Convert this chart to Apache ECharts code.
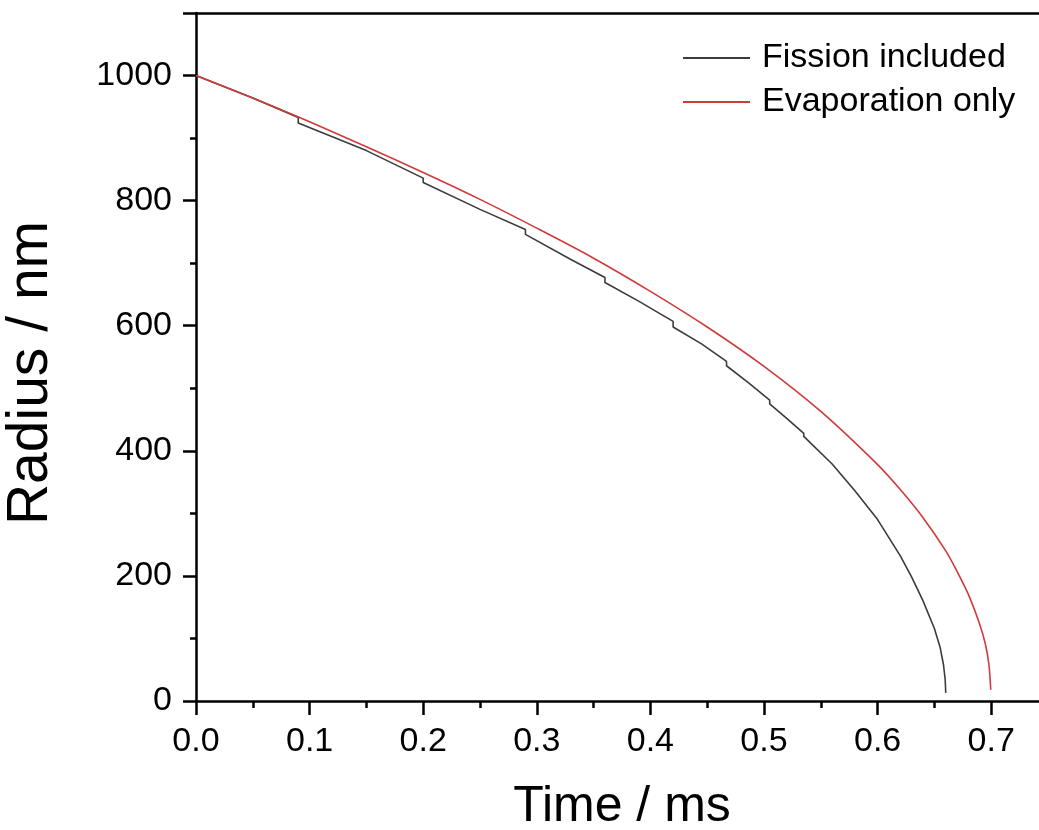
<!DOCTYPE html>
<html>
<head>
<meta charset="utf-8">
<script src="https://cdn.jsdelivr.net/npm/echarts@6/dist/echarts.min.js"></script>
<style>html,body{margin:0;padding:0;background:#fff}#c{width:1039px;height:830px}</style>
</head>
<body>
<div id="c"></div>
<script>
// Time (ms) and radius (nm)
var evapTime   = [0, 0.05, 0.1, 0.15, 0.2, 0.25, 0.3, 0.35, 0.4, 0.45, 0.5, 0.55, 0.6, 0.62, 0.64, 0.66, 0.67, 0.68, 0.69, 0.695, 0.698, 0.6996];
var evapRadius = [1000, 964, 926, 886, 845, 802, 756, 708, 655, 598, 535, 463, 378, 338, 293, 240, 207, 170, 122, 90, 58, 18];

var fissTime   = [0, 0.05, 0.09, 0.09, 0.15, 0.2, 0.2, 0.25, 0.29, 0.29, 0.33, 0.36, 0.36, 0.39, 0.42, 0.42, 0.445, 0.467, 0.467, 0.487, 0.505, 0.505, 0.52, 0.535, 0.535, 0.56, 0.58, 0.6, 0.62, 0.63, 0.64, 0.65, 0.655, 0.658, 0.6595, 0.66];
var fissRadius = [1000, 964, 933, 924, 880, 836, 829, 786, 754, 746, 706, 677, 669, 639, 607, 598, 571, 543, 536, 508, 481, 475, 452, 428, 423, 379, 336, 290, 232, 198, 160, 116, 86, 58, 34, 13];

var xTicks = [0, 0.1, 0.2, 0.3, 0.4, 0.5, 0.6, 0.7];
var yTicks = [0, 200, 400, 600, 800, 1000];

var COLOR_FISS = '#3c3c3c';
var COLOR_EVAP = '#d03a3a';

function zip(a, b) { return a.map(function (v, i) { return [v, b[i]]; }); }

var FONT = '"Liberation Sans", Arial, sans-serif';
var LINE_ICON = 'path://M0,0 L67,0 L67,2 L0,2 Z';
var chart = echarts.init(document.getElementById('c'), null, {renderer: 'canvas'});
chart.setOption({
  animation: false,
  backgroundColor: '#fff',
  textStyle: {fontFamily: FONT, color: '#000'},
  grid: {left: 196, top: 13, right: -9, bottom: 129, containLabel: false, outerBoundsMode: 'none'},
  legend: {
    orient: 'vertical', left: 678, top: 36, itemWidth: 67, itemHeight: 2, itemGap: 10,
    data: [
      {name: 'Fission included', icon: LINE_ICON, itemStyle: {color: COLOR_FISS}},
      {name: 'Evaporation only', icon: LINE_ICON, itemStyle: {color: COLOR_EVAP}}
    ],
    textStyle: {fontFamily: FONT, fontSize: 34, color: '#000', padding: [0, 0, 0, 7]}
  },
  xAxis: [{
    type: 'value', min: 0, max: 0.75, interval: 0.1,
    name: 'Time / ms', nameLocation: 'middle', nameGap: 81,
    nameTextStyle: {fontFamily: FONT, fontSize: 50, color: '#000'},
    axisLine: {show: true, onZero: false, lineStyle: {color: '#000', width: 2.5}},
    axisTick: {show: true, length: 14, lineStyle: {color: '#000', width: 2.5}},
    minorTick: {show: true, splitNumber: 2, length: 7, lineStyle: {color: '#000', width: 2.5}},
    splitLine: {show: false},
    axisLabel: {fontFamily: FONT, fontSize: 34, color: '#000', margin: 24,
      formatter: function (v) { return xTicks.indexOf(Math.round(v * 10) / 10) >= 0 && Math.abs(v * 10 - Math.round(v * 10)) < 1e-6 ? v.toFixed(1) : ''; }}
  }, {
    type: 'value', position: 'top', min: 0, max: 0.75,
    axisLine: {show: true, onZero: false, lineStyle: {color: '#000', width: 2.5}},
    axisTick: {show: false}, axisLabel: {show: false}, splitLine: {show: false}
  }],
  yAxis: {
    type: 'value', min: 0, max: 1100, interval: 200,
    name: 'Radius / nm', nameLocation: 'middle', nameGap: 136, nameRotate: 90,
    nameTextStyle: {fontFamily: FONT, fontSize: 57, color: '#000', padding: [0, 32, 0, 0]},
    axisLine: {show: true, onZero: false, lineStyle: {color: '#000', width: 2.5}},
    axisTick: {show: true, length: 13, lineStyle: {color: '#000', width: 2.5}},
    minorTick: {show: true, splitNumber: 2, length: 6, lineStyle: {color: '#000', width: 2.5}},
    splitLine: {show: false},
    axisLabel: {fontFamily: FONT, fontSize: 34, color: '#000', margin: 24,
      formatter: function (v) { return yTicks.indexOf(v) >= 0 ? String(v) : ''; }}
  },
  series: [{
    name: 'Fission included', type: 'line', symbol: 'none', smooth: false,
    lineStyle: {color: COLOR_FISS, width: 1.6}, itemStyle: {color: COLOR_FISS},
    data: zip(fissTime, fissRadius), z: 2
  }, {
    name: 'Evaporation only', type: 'line', symbol: 'none', smooth: 0.3,
    lineStyle: {color: COLOR_EVAP, width: 1.6}, itemStyle: {color: COLOR_EVAP},
    data: zip(evapTime, evapRadius), z: 3
  }]
});
</script>
</body>
</html>
